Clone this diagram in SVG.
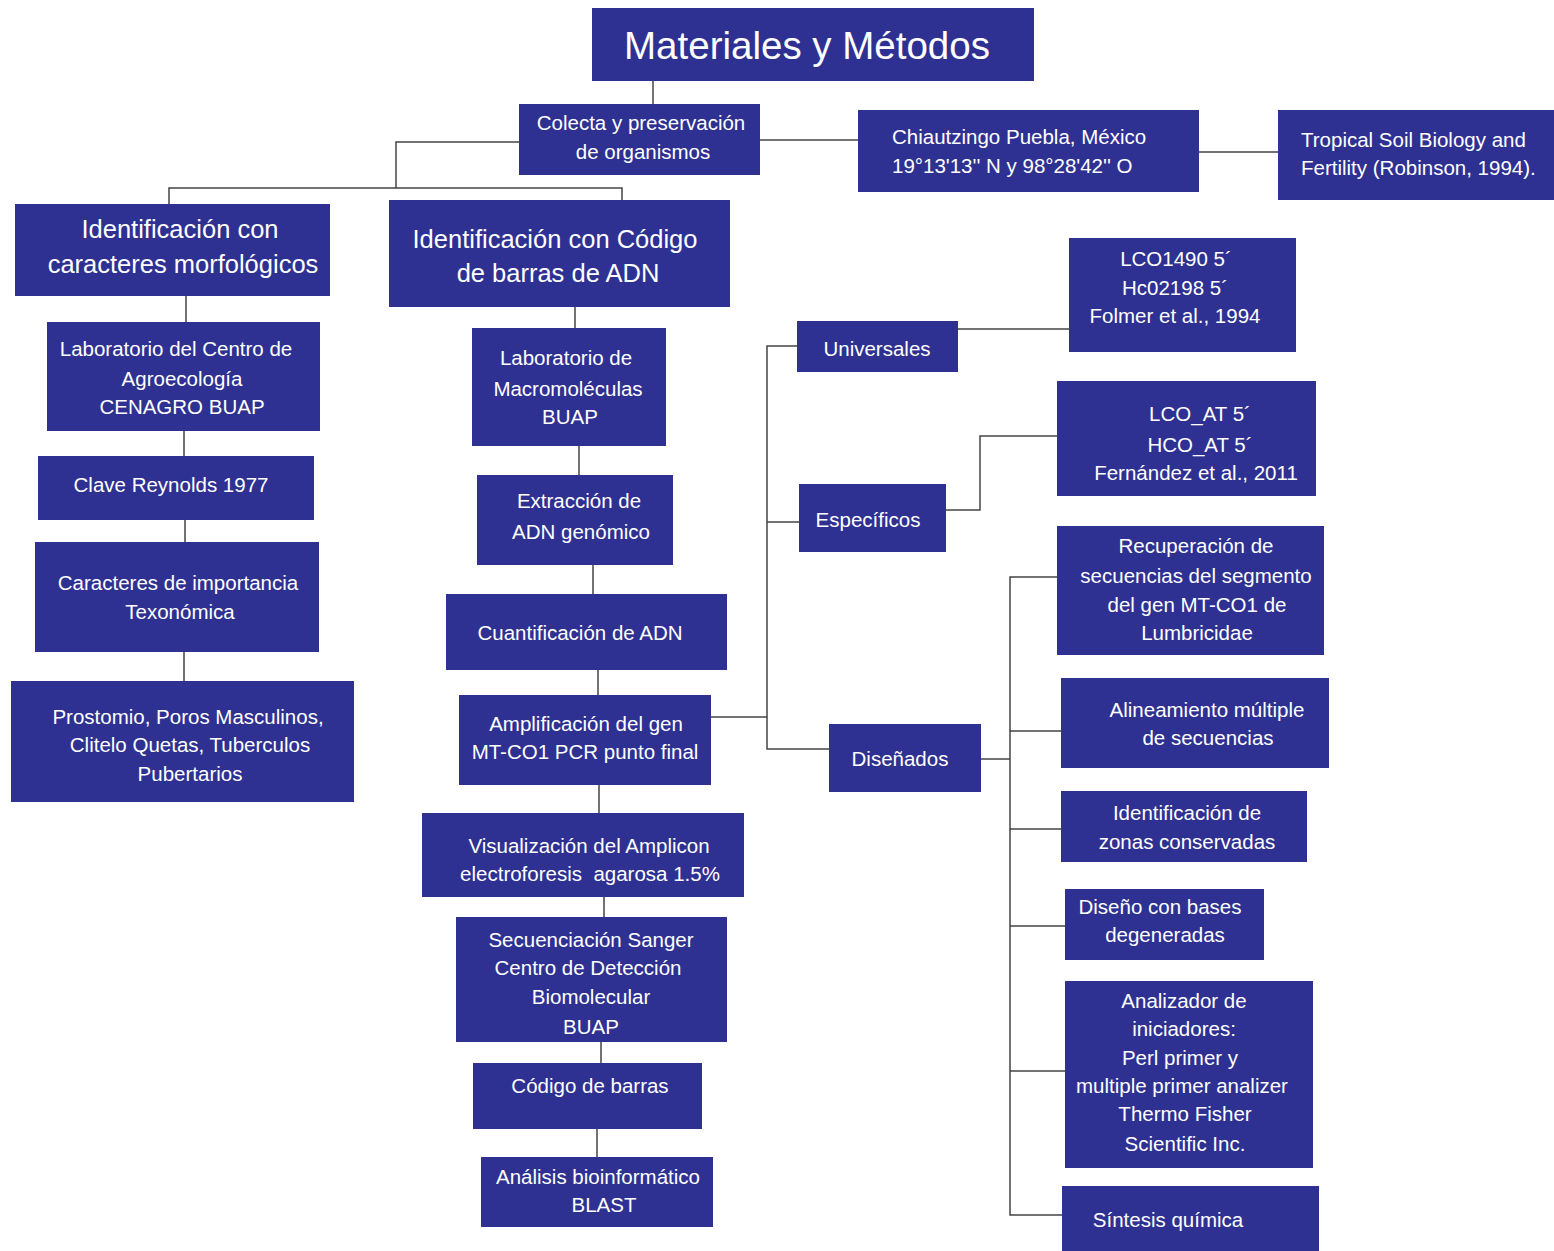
<svg xmlns="http://www.w3.org/2000/svg" width="1554" height="1251" viewBox="0 0 1554 1251">
<style>
.b{fill:#2E3192}
text{font-family:"Liberation Sans",Arial,sans-serif;fill:#fff;font-size:20.5px;text-anchor:middle;dominant-baseline:central}
.h{font-size:25.5px}
.t{font-size:38.5px}
.l{text-anchor:start}
.p{white-space:pre}
.c{fill:none;stroke:#444;stroke-width:1.5}
</style>
<rect width="1554" height="1251" fill="#fff"/>
<g id="connectors" class="c">
<path d="M653 81V104"/>
<path d="M519 142H396V188M169 204V188H622V200"/>
<path d="M760 140H858"/>
<path d="M1199 152H1278"/>
<path d="M186 296V322M184 431V456M185 520V542M184 652V681"/>
<path d="M575 307V328M579 446V475M593 565V594M598 670V695M599 785V813M604 897V917M601 1042V1063M597 1129V1157"/>
<path d="M711 717H767M797 346H767V749H829M767 522H799"/>
<path d="M958 329H1069"/>
<path d="M946 510H980V436H1057"/>
<path d="M981 759H1010M1057 577H1010V1215H1062M1010 731H1061M1010 829H1061M1010 926H1065M1010 1071H1065"/>
</g>
<g id="n-title"><rect class="b" x="592" y="8" width="442" height="73"/><text class="t" x="807" y="45">Materiales y Métodos</text></g>
<g id="n-colecta"><rect class="b" x="519" y="104" width="241" height="71"/><text x="641" y="122">Colecta y preservación</text><text x="643" y="151">de organismos</text></g>
<g id="n-chiautzingo"><rect class="b" x="858" y="110" width="341" height="82"/><text class="l" x="892" y="136">Chiautzingo Puebla, México</text><text class="l" x="892" y="165">19°13'13'' N y 98°28'42'' O</text></g>
<g id="n-tropical"><rect class="b" x="1278" y="110" width="276" height="90"/><text class="l" x="1301" y="139">Tropical Soil Biology and</text><text class="l" x="1301" y="167">Fertility (Robinson, 1994).</text></g>
<g id="n-morfo"><rect class="b" x="15" y="204" width="315" height="92"/><text class="h" x="180" y="229">Identificación con</text><text class="h" x="183" y="264">caracteres morfológicos</text></g>
<g id="n-adn"><rect class="b" x="389" y="200" width="341" height="107"/><text class="h" x="555" y="239">Identificación con Código</text><text class="h" x="558" y="273">de barras de ADN</text></g>
<g id="n-cenagro"><rect class="b" x="47" y="322" width="273" height="109"/><text x="176" y="348">Laboratorio del Centro de</text><text x="182" y="378">Agroecología</text><text x="182" y="406">CENAGRO BUAP</text></g>
<g id="n-clave"><rect class="b" x="38" y="456" width="276" height="64"/><text x="171" y="484">Clave Reynolds 1977</text></g>
<g id="n-caracteres"><rect class="b" x="35" y="542" width="284" height="110"/><text x="178" y="582">Caracteres de importancia</text><text x="180" y="611">Texonómica</text></g>
<g id="n-prostomio"><rect class="b" x="11" y="681" width="343" height="121"/><text x="188" y="716">Prostomio, Poros Masculinos,</text><text x="190" y="744">Clitelo Quetas, Tuberculos</text><text x="190" y="773">Pubertarios</text></g>
<g id="n-macro"><rect class="b" x="472" y="328" width="194" height="118"/><text x="566" y="357">Laboratorio de</text><text x="568" y="388">Macromoléculas</text><text x="570" y="416">BUAP</text></g>
<g id="n-extraccion"><rect class="b" x="477" y="475" width="196" height="90"/><text x="579" y="500">Extracción de</text><text x="581" y="531">ADN genómico</text></g>
<g id="n-cuant"><rect class="b" x="446" y="594" width="281" height="76"/><text x="580" y="632">Cuantificación de ADN</text></g>
<g id="n-ampl"><rect class="b" x="459" y="695" width="252" height="90"/><text x="586" y="723">Amplificación del gen</text><text x="585" y="751">MT-CO1 PCR punto final</text></g>
<g id="n-visual"><rect class="b" x="422" y="813" width="322" height="84"/><text x="589" y="845">Visualización del Amplicon</text><text class="p" x="590" y="873">electroforesis  agarosa 1.5%</text></g>
<g id="n-sanger"><rect class="b" x="456" y="917" width="271" height="125"/><text x="591" y="939">Secuenciación Sanger</text><text x="588" y="967">Centro de Detección</text><text x="591" y="996">Biomolecular</text><text x="591" y="1026">BUAP</text></g>
<g id="n-codigo"><rect class="b" x="473" y="1063" width="229" height="66"/><text x="590" y="1085">Código de barras</text></g>
<g id="n-blast"><rect class="b" x="481" y="1157" width="232" height="70"/><text x="598" y="1176">Análisis bioinformático</text><text x="604" y="1204">BLAST</text></g>
<g id="n-universales"><rect class="b" x="797" y="321" width="161" height="51"/><text x="877" y="348">Universales</text></g>
<g id="n-lco1490"><rect class="b" x="1069" y="238" width="227" height="114"/><text x="1176" y="258">LCO1490 5´</text><text x="1175" y="287">Hc02198 5´</text><text x="1175" y="315">Folmer et al., 1994</text></g>
<g id="n-especificos"><rect class="b" x="799" y="484" width="147" height="68"/><text x="868" y="519">Específicos</text></g>
<g id="n-lcoat"><rect class="b" x="1057" y="381" width="259" height="115"/><text x="1200" y="413">LCO_AT 5´</text><text x="1200" y="444">HCO_AT 5´</text><text x="1196" y="472">Fernández et al., 2011</text></g>
<g id="n-disenados"><rect class="b" x="829" y="724" width="152" height="68"/><text x="900" y="758">Diseñados</text></g>
<g id="n-recup"><rect class="b" x="1057" y="526" width="267" height="129"/><text x="1196" y="545">Recuperación de</text><text x="1196" y="575">secuencias del segmento</text><text x="1197" y="604">del gen MT-CO1 de</text><text x="1197" y="632">Lumbricidae</text></g>
<g id="n-alin"><rect class="b" x="1061" y="678" width="268" height="90"/><text x="1207" y="709">Alineamiento múltiple</text><text x="1208" y="737">de secuencias</text></g>
<g id="n-zonas"><rect class="b" x="1061" y="791" width="246" height="71"/><text x="1187" y="812">Identificación de</text><text x="1187" y="841">zonas conservadas</text></g>
<g id="n-degen"><rect class="b" x="1065" y="889" width="199" height="71"/><text x="1160" y="906">Diseño con bases</text><text x="1165" y="934">degeneradas</text></g>
<g id="n-analizador"><rect class="b" x="1065" y="981" width="248" height="187"/><text x="1184" y="1000">Analizador de</text><text x="1184" y="1028">iniciadores:</text><text x="1180" y="1057">Perl primer y</text><text x="1182" y="1085">multiple primer analizer</text><text x="1185" y="1113">Thermo Fisher</text><text x="1185" y="1143">Scientific Inc.</text></g>
<g id="n-sintesis"><rect class="b" x="1062" y="1186" width="257" height="65"/><text x="1168" y="1219">Síntesis química</text></g>
</svg>
